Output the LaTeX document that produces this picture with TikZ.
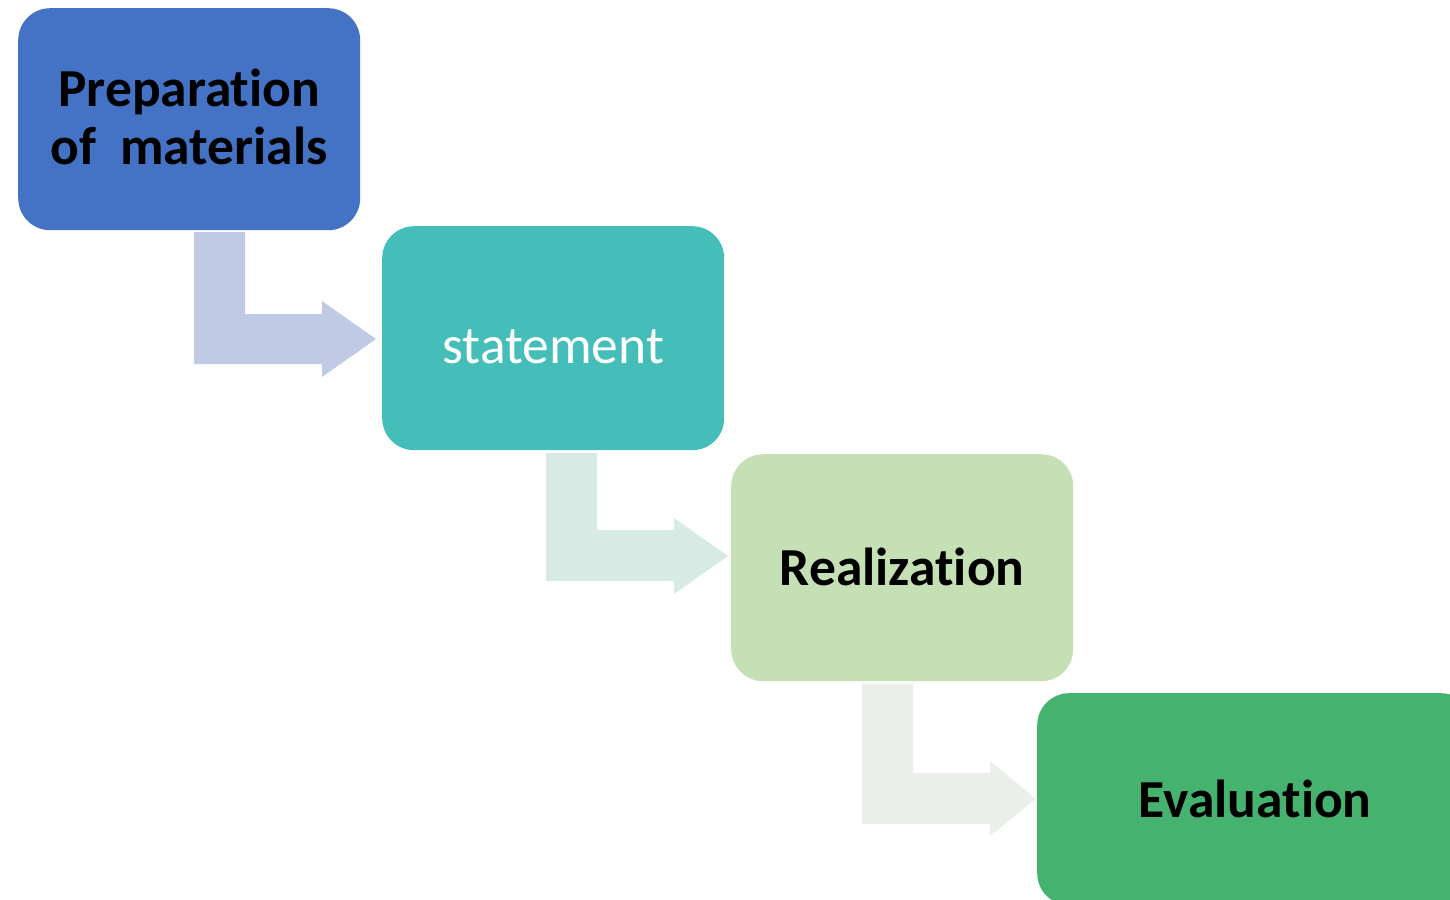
\documentclass[tikz,border=0pt]{standalone}
\usepackage{fontspec}
\setmainfont{Carlito}[Ligatures=NoCommon]
\begin{document}
\begin{tikzpicture}[x=1pt,y=-1pt,
  stepbox/.style={rectangle, rounded corners=32pt, minimum width=342pt, minimum height=222pt, inner sep=0pt, anchor=north west, align=center},
  steptext/.style={font=\fontsize{53.5}{58}\selectfont\bfseries, align=center}]
\definecolor{cA}{HTML}{4472C4}
\definecolor{cB}{HTML}{45BDB9}
\definecolor{cC}{HTML}{C5E0B4}
\definecolor{cD}{HTML}{45B26F}
\definecolor{aA}{HTML}{C0CAE4}
\definecolor{aB}{HTML}{D8EAE4}
\definecolor{aC}{HTML}{EBEFE9}
\useasboundingbox (0,0) rectangle (1450,899);
\begin{scope}
\clip (0,0) rectangle (1450,899);
\node[stepbox, fill=cA] (p) at (18,8) {};
\node[stepbox, fill=cB, minimum height=224pt] (s) at (382,226) {};
\node[stepbox, fill=cC, minimum height=227pt] (r) at (731,454) {};
\node[stepbox, fill=cD, minimum width=436pt, minimum height=212pt] (e) at (1037,693) {};
\node[steptext] (pt) at ([yshift=2pt]p.center) {Preparation\\of\ \ materials};
\node[steptext, font=\fontsize{53.5}{58}\selectfont, text=white] (st) at ([yshift=-9pt]s.center) {statement};
\node[steptext] (rt) at ([yshift=1pt]r.center) {Realization};
\node[steptext] (et) at (e.center) {Evaluation};
% bent arrows
\fill[aA] (194,232) -- (245,232) -- (245,314) -- (322,314) -- (322,301) -- (376,339) -- (322,377) -- (322,364) -- (194,364) -- cycle;
\fill[aB] (546,453) -- (597,453) -- (597,530) -- (674,530) -- (674,518) -- (728,556) -- (674,594) -- (674,581) -- (546,581) -- cycle;
\fill[aC] (862,684) -- (913,684) -- (913,773) -- (990,773) -- (990,761) -- (1036,799) -- (990,836) -- (990,824) -- (862,824) -- cycle;
\end{scope}
\end{tikzpicture}
\end{document}
